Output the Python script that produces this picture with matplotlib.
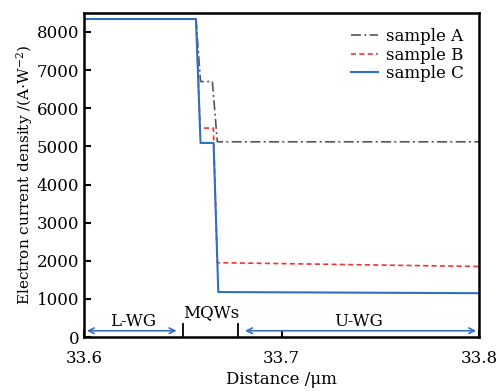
import numpy as np
import matplotlib.pyplot as plt

plt.rcParams['font.family'] = 'serif'
plt.rcParams['font.serif'] = ['DejaVu Serif']
plt.rcParams['mathtext.fontset'] = 'dejavuserif'

# step profiles (distance in um, current density in A/W^2)
x_a = [33.6, 33.6567, 33.6590, 33.6650, 33.6675, 33.8]
y_a = [8340, 8340, 6700, 6700, 5120, 5120]

x_b = [33.6, 33.6567, 33.6588, 33.6655, 33.6675, 33.8]
y_b = [8340, 8340, 5480, 5480, 1950, 1850]

x_c = [33.6, 33.6567, 33.6590, 33.6656, 33.6680, 33.8]
y_c = [8340, 8340, 5090, 5090, 1180, 1150]

bounds = [33.6503, 33.6781]
regions = ["L-WG", "MQWs", "U-WG"]

fig = plt.figure(figsize=(5, 3.91), dpi=100)
ax = fig.add_axes([0.168, 0.138, 0.79, 0.829])

ax.plot(x_a, y_a, color='#555555', lw=1.2, ls=(0, (6, 2, 1.2, 2)), label='sample A')
ax.plot(x_b, y_b, color='#ee3333', lw=1.2, ls=(0, (3, 2)), label='sample B')
ax.plot(x_c, y_c, color='#2f6fc4', lw=1.5, label='sample C')

# region markers
blue = '#3a6fc0'
for b in bounds:
    ax.plot([b, b], [0, 330], color='black', lw=1.3)
ax.annotate('', xy=(33.6, 165), xytext=(bounds[0] - 0.002, 165),
            arrowprops=dict(arrowstyle='<->', color=blue, lw=1.2))
ax.annotate('', xy=(bounds[1] + 0.002, 165), xytext=(33.8, 165),
            arrowprops=dict(arrowstyle='<->', color=blue, lw=1.2))
ax.text(33.625, 300, regions[0], ha='center', va='baseline', fontsize=12)
ax.text(33.6645, 510, regions[1], ha='center', va='baseline', fontsize=12)
ax.text(33.739, 300, regions[2], ha='center', va='baseline', fontsize=12)

ax.set_xlim(33.6, 33.8)
ax.set_ylim(0, 8500)
ax.set_xticks([33.6, 33.7, 33.8])
ax.set_xticklabels(['33.6', '33.7', '33.8'])
ax.set_yticks(np.arange(0, 8001, 1000))
ax.tick_params(direction='in', labelsize=12, length=5, width=1.5, top=False, right=False)
ax.tick_params(axis='x', pad=9)
for s in ax.spines.values():
    s.set_linewidth(1.8)

ax.set_xlabel('Distance /μm', fontsize=12, labelpad=3)
ax.set_ylabel(r'Electron current density /(A$\cdot$W$^{-2}$)', fontsize=11, labelpad=1)

ax.legend(loc='upper right', frameon=False, fontsize=12, handlelength=1.6,
          handletextpad=0.5, labelspacing=0.1, borderaxespad=0.5)

fig.savefig('out.png', dpi=100)
